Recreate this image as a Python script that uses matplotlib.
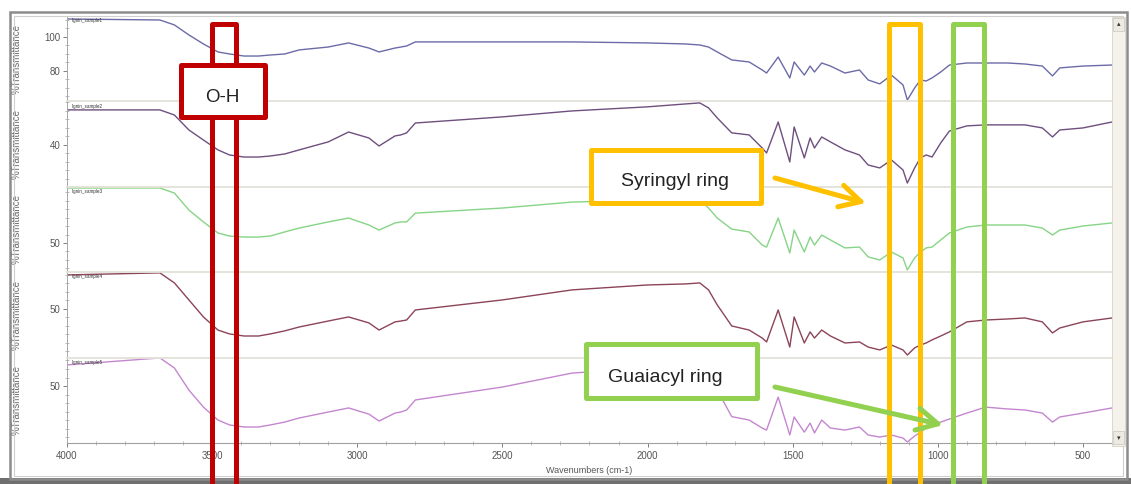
import matplotlib
matplotlib.use('Agg')
import matplotlib.pyplot as plt
import matplotlib.transforms as mtransforms
from matplotlib.patches import Rectangle, FancyArrowPatch
from matplotlib.lines import Line2D
from matplotlib.ticker import MultipleLocator

plt.rcParams['font.family'] = ['Liberation Sans', 'DejaVu Sans']

# wavenumbers (cm-1)
wavenumber = [4000, 3680, 3630, 3580, 3530, 3480, 3440, 3390, 3340, 3300,
              3250, 3200, 3100, 3030, 2960, 2925, 2870, 2850, 2830, 2800,
              2500, 2260, 2000, 1870, 1820, 1790, 1760, 1710, 1650, 1605,
              1590, 1550, 1510, 1495, 1460, 1440, 1425, 1400, 1370, 1320,
              1270, 1240, 1200, 1160, 1120, 1105, 1080, 1060, 1040, 1020,
              990, 960, 900, 835, 760, 700, 640, 605, 580, 500,
              400]

# %Transmittance of each sample
sample1 = [110.6, 110.0, 107.1, 101.2, 95.9, 91.2, 90.0, 88.8, 88.8, 89.4,
           90.0, 92.4, 94.1, 96.5, 93.5, 91.2, 93.5, 94.1, 94.7, 97.1,
           97.1, 97.1, 96.5, 95.9, 95.3, 94.1, 91.2, 86.5, 85.3, 80.6,
           78.8, 88.2, 75.9, 85.3, 77.6, 82.9, 79.4, 84.7, 82.9, 78.8,
           80.6, 74.7, 72.4, 77.6, 71.8, 62.9, 70.0, 74.7, 74.1, 75.9,
           79.4, 83.5, 84.7, 84.7, 84.7, 84.1, 82.9, 77.1, 81.8, 82.9,
           83.5]
sample2 = [60.6, 60.6, 57.6, 48.8, 42.9, 37.1, 34.1, 32.9, 32.9, 33.5,
           34.7, 37.1, 41.8, 47.6, 44.1, 39.4, 45.3, 45.9, 47.1, 52.9,
           56.5, 60.0, 62.4, 64.1, 64.7, 61.8, 55.9, 47.1, 45.9, 38.2,
           35.3, 53.5, 30.0, 50.6, 32.4, 44.1, 38.2, 44.7, 41.8, 37.1,
           34.1, 28.2, 26.5, 31.2, 25.3, 17.6, 26.5, 32.4, 34.1, 32.9,
           41.2, 48.2, 51.2, 51.8, 51.8, 51.8, 50.0, 44.7, 48.8, 50.0,
           53.5]
sample3 = [82.4, 82.4, 79.4, 69.4, 62.4, 55.9, 54.1, 53.5, 53.5, 54.1,
           56.5, 58.8, 62.4, 64.7, 60.6, 57.6, 61.8, 62.4, 62.4, 67.6,
           70.6, 74.1, 75.3, 75.3, 75.3, 70.6, 64.7, 58.2, 56.5, 48.8,
           47.6, 64.7, 44.1, 57.6, 44.7, 53.5, 48.8, 54.7, 51.8, 47.1,
           47.6, 41.8, 40.0, 44.7, 41.2, 34.1, 41.2, 44.7, 47.1, 47.6,
           51.8, 55.9, 59.4, 60.6, 60.6, 60.6, 58.8, 54.7, 57.6, 60.0,
           61.8]
sample4 = [70.0, 71.2, 65.3, 55.3, 45.3, 37.6, 35.3, 34.1, 34.1, 35.3,
           37.1, 39.4, 42.9, 45.3, 41.8, 37.6, 42.4, 42.9, 43.5, 49.4,
           55.3, 61.2, 64.1, 64.7, 65.3, 61.2, 52.4, 40.0, 37.6, 32.9,
           30.6, 49.4, 27.6, 45.3, 30.0, 36.5, 32.9, 37.6, 34.1, 30.0,
           30.6, 27.6, 25.9, 28.8, 25.9, 22.9, 27.1, 28.8, 30.0, 31.8,
           34.1, 36.5, 42.4, 43.5, 44.1, 44.7, 42.4, 35.9, 38.8, 42.4,
           44.7]
sample5 = [62.4, 66.5, 60.6, 47.6, 37.6, 30.0, 27.1, 25.9, 25.9, 27.1,
           28.8, 31.2, 34.7, 37.1, 33.5, 29.4, 34.1, 34.7, 35.9, 41.8,
           49.4, 57.6, 60.6, 62.4, 62.4, 56.0, 47.6, 32.0, 30.0, 25.3,
           24.1, 43.5, 21.2, 31.8, 22.9, 28.2, 22.4, 30.0, 25.3, 24.1,
           25.9, 21.2, 20.0, 21.2, 19.4, 17.1, 20.6, 22.9, 25.3, 27.1,
           28.8, 30.6, 34.1, 37.6, 36.5, 35.9, 34.1, 28.8, 31.8, 34.1,
           37.1]

samples = [sample1, sample2, sample3, sample4, sample5]
sample_names = ['lignin_sample1', 'lignin_sample2', 'lignin_sample3',
                'lignin_sample4', 'lignin_sample5']
sample_colors = ['#6b6ba8', '#6e4f7e', '#86d486', '#8c4458', '#c487cf']
panel_ylim = [(62.1, 112.35), (15.4, 65.6), (32.8, 83.1), (21.4, 71.6), (16.5, 66.7)]
panel_ticks = [[80, 100], [40], [50], [50], [50]]
x_ticks = [4000, 3500, 3000, 2500, 2000, 1500, 1000, 500]

# marked bands (cm-1)
band_labels = ['O-H', 'Syringyl ring', 'Guaiacyl ring']
band_ranges = [(3500, 3418), (1168, 1061), (947, 840)]
band_colors = ['#c00000', '#ffc000', '#92d050']

W, H = 1131, 484
fig = plt.figure(figsize=(W / 100, H / 100), dpi=100)
fig.patch.set_facecolor('white')


def fx(x):
    return x / W


def fy(y):
    return 1 - y / H


# window frame
fig.add_artist(Rectangle((fx(0), fy(484)), 1, 6 / H, transform=fig.transFigure,
                         facecolor='#6f6f6f', edgecolor='none', zorder=0.5))
fig.add_artist(Rectangle((fx(10), fy(479)), 1117 / W, 467 / H, transform=fig.transFigure,
                         facecolor='none', edgecolor='#8c8c8c', lw=1.8, zorder=0.5))
fig.add_artist(Rectangle((fx(14), fy(476)), 1109 / W, 460 / H, transform=fig.transFigure,
                         facecolor='none', edgecolor='#cfcfcf', lw=0.8, zorder=0.5))
# scrollbar
fig.add_artist(Rectangle((fx(1112), fy(446)), 13 / W, 429 / H, transform=fig.transFigure,
                         facecolor='#f4f2ea', edgecolor='#d6d4ca', lw=0.6, zorder=0.6))
for yb in (18, 431):
    fig.add_artist(Rectangle((fx(1113), fy(yb + 13)), 11 / W, 13 / H, transform=fig.transFigure,
                             facecolor='#ecebe3', edgecolor='#c9c7bd', lw=0.5, zorder=0.7))
fig.text(fx(1118.5), fy(24), '\u25b4', fontsize=5, ha='center', va='center',
         color='#333', family='DejaVu Sans')
fig.text(fx(1118.5), fy(438), '\u25be', fontsize=5, ha='center', va='center',
         color='#333', family='DejaVu Sans')

left, right = fx(67), fx(1112)
top, bottom = fy(16), fy(443)
ph = (top - bottom) / 5
axes = []
for i in range(5):
    ax = fig.add_axes([left, top - (i + 1) * ph, right - left, ph])
    ax.set_facecolor('none')
    ax.plot(wavenumber, samples[i], color=sample_colors[i], lw=1.0,
            solid_joinstyle='round')
    ax.set_xlim(4000, 400)
    ax.set_ylim(*panel_ylim[i])
    ax.set_yticks(panel_ticks[i])
    ax.yaxis.set_minor_locator(MultipleLocator(5))
    ax.tick_params(axis='y', which='major', direction='out', length=3, width=0.7,
                   color='#808080', labelsize=7, labelcolor='#555555', pad=1.5)
    ax.tick_params(axis='y', which='minor', direction='inout', length=2.5, width=0.5,
                   color='#a0a0a0')
    ax.spines['right'].set_visible(False)
    ax.spines['left'].set_color('#a8a8a8')
    ax.spines['left'].set_linewidth(0.7)
    if i == 0:
        ax.spines['top'].set_visible(False)
    else:
        ax.spines['top'].set_color('#e2e2da')
        ax.spines['top'].set_linewidth(1.3)
    ax.text(0.005, 0.975, sample_names[i], transform=ax.transAxes, fontsize=3.3,
            ha='left', va='top', color='#333333')
    ax.text(-0.048, 0.5, '%Transmittance', transform=ax.transAxes, rotation=90,
            ha='center', va='center', fontsize=7, color='#6a6a6a')
    if i < 4:
        ax.spines['bottom'].set_visible(False)
        ax.tick_params(axis='x', which='both', bottom=False, labelbottom=False)
    else:
        ax.spines['bottom'].set_color('#a0a0a0')
        ax.spines['bottom'].set_linewidth(0.8)
        ax.set_xticks(x_ticks)
        ax.xaxis.set_minor_locator(MultipleLocator(100))
        ax.tick_params(axis='x', which='major', direction='out', length=3, width=0.7,
                       color='#808080', labelsize=7, labelcolor='#555555', pad=2.5)
        ax.tick_params(axis='x', which='minor', direction='inout', length=2.5,
                       width=0.5, color='#a0a0a0')
        ax.set_xlabel('Wavenumbers (cm-1)', fontsize=6.5, color='#555555', labelpad=4)
    axes.append(ax)

# bands drawn across the whole stack
trans = mtransforms.blended_transform_factory(axes[-1].transData, fig.transFigure)
band_tops = [23.5, 23.5, 23.5]
for (w1, w2), color, yt in zip(band_ranges, band_colors, band_tops):
    fig.add_artist(Line2D([w1, w1, w2, w2], [-0.05, fy(yt), fy(yt), -0.05],
                          transform=trans, color=color, lw=3.6,
                          solid_joinstyle='round', zorder=5))


def label_box(x0, y0, x1, y1, text, color, tx, ty, fs):
    fig.add_artist(Rectangle((fx(x0), fy(y1)), (x1 - x0) / W, (y1 - y0) / H,
                             transform=fig.transFigure, facecolor='white',
                             edgecolor=color, lw=3.6, joinstyle='round', zorder=6))
    fig.text(fx(tx), fy(ty), text, ha='center', va='center', fontsize=fs,
             color='#222222', zorder=7)


label_box(180.5, 65.5, 264.5, 116.5, band_labels[0], band_colors[0], 222, 97, 13.5)
label_box(590.5, 149.5, 760.5, 202.5, band_labels[1], band_colors[1], 675, 182, 14)
label_box(585.5, 343.5, 756.5, 397.5, band_labels[2], band_colors[2], 665, 377, 14)

for (xa, ya), (xb, yb), color in [((775, 178), (866, 203), band_colors[1]),
                                  ((775, 387), (943, 425), band_colors[2])]:
    fig.add_artist(FancyArrowPatch((fx(xa), fy(ya)), (fx(xb), fy(yb)),
                                   transform=fig.transFigure,
                                   arrowstyle='->,head_length=0.75,head_width=0.4',
                                   mutation_scale=20, lw=3.6, color=color,
                                   shrinkA=0, shrinkB=0, zorder=6))

fig.savefig('out.png', dpi=100)
